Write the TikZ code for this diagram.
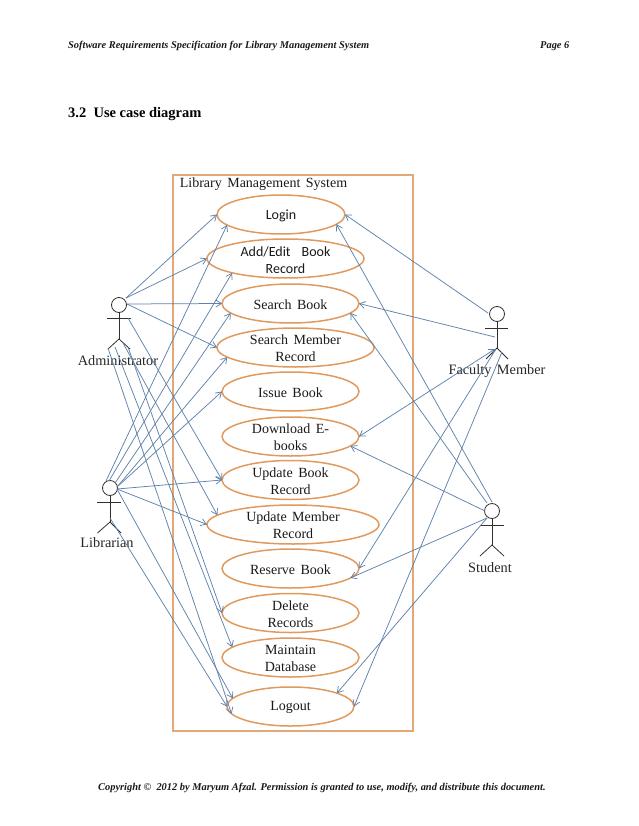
\documentclass[tikz,border=0pt]{standalone}
\usepackage{fontspec}
\setmainfont{Liberation Serif}
\newfontfamily\calib{Carlito}
\usetikzlibrary{shapes.geometric,arrows.meta}
\definecolor{frameor}{HTML}{E2A878}
\definecolor{ellor}{HTML}{E09A5E}
\definecolor{linkbl}{HTML}{5F82AB}
\definecolor{actk}{HTML}{303030}
\newcommand{\wide}{\spaceskip=5.5pt plus 1pt\relax}
\tikzset{
  uc/.style={draw=ellor,line width=1.5pt,ellipse,inner sep=0pt,outer sep=0pt,minimum height=39pt},
  uctext/.style={font=\fontsize{14}{17}\selectfont\wide,align=center,inner sep=0pt,text=black!90,yshift=-1pt},
  calibtext/.style={font=\calib\fontsize{14}{17}\selectfont\wide,align=center,inner sep=0pt,text=black!90,yshift=-1.5pt},
  link/.style={draw=linkbl,line width=0.75pt,-{Straight Barb[length=5.5pt,width=7pt]}},
  biglink/.style={draw=linkbl,line width=0.75pt,{Straight Barb[length=5.5pt,width=7pt]}-{Straight Barb[length=5.5pt,width=7pt]}},
  limb/.style={draw=actk,line width=0.8pt},
  head/.style={draw=actk,line width=0.8pt,circle,minimum size=15pt,inner sep=0pt,outer sep=0pt},
  hdr/.style={font=\bfseries\itshape\fontsize{10.4}{12}\selectfont,anchor=west,inner sep=0pt,text=black!90},
  actorlabel/.style={font=\fontsize{14.3}{16}\selectfont\wide,inner sep=0pt,text=black!85},
}
\begin{document}
\begin{tikzpicture}[x=1pt,y=-1pt]
\useasboundingbox (0,0) rectangle (638,826);
% page texts
\node[hdr] (head) at (68,46) {Software Requirements Specification for Library Management System};
\node[hdr] (page) at (540,46) {Page 6};
\node[font=\bfseries\fontsize{14.5}{17}\selectfont,anchor=west,inner sep=0pt] (sec) at (68,114) {3.2\ \ Use case diagram};
\node[hdr] (copy) at (98,787.5) {Copyright ©\ \ 2012 by Maryum Afzal. Permission is granted to use, modify, and distribute this document.};
% system frame
\node[draw=frameor,line width=1.9pt,rectangle,minimum width=240pt,minimum height=556pt,inner sep=0pt] (frame) at (293,453) {};
\node[uctext] (title) at (263.5,183) {Library Management System};
% use cases
\node[uc,minimum width=128pt,label={[calibtext]center:Login}] (login) at (281,214.5) {};
\node[uc,minimum width=157pt,label={[calibtext]center:Add/Edit\ \ Book\\Record}] (add) at (285.5,258.5) {};
\node[uc,minimum width=137pt,label={[uctext]center:Search Book}] (sbook) at (290.5,303.5) {};
\node[uc,minimum width=157pt,label={[uctext]center:Search Member\\Record}] (smem) at (295.5,347.5) {};
\node[uc,minimum width=137pt,label={[uctext]center:Issue Book}] (issue) at (290.5,391.5) {};
\node[uc,minimum width=137pt,label={[uctext]center:Download E-\\books}] (down) at (290.5,436.5) {};
\node[uc,minimum width=137pt,label={[uctext]center:Update Book\\Record}] (ubook) at (290.5,480) {};
\node[uc,minimum width=172pt,label={[uctext]center:Update Member\\Record}] (umem) at (293,524.5) {};
\node[uc,minimum width=137pt,label={[uctext]center:Reserve Book}] (res) at (290.5,568.5) {};
\node[uc,minimum width=137pt,label={[uctext]center:Delete\\Records}] (del) at (290.5,613) {};
\node[uc,minimum width=137pt,label={[uctext]center:Maintain\\Database}] (maint) at (290.5,657.5) {};
\node[uc,minimum width=127pt,label={[uctext]center:Logout}] (logout) at (290.5,706.5) {};
% actors
\node[head] (admh) at (119,305) {};
\coordinate (admb) at (119,339);
\draw[limb] (admh) -- (admb);
\draw[limb] (107,318) -- (131,318);
\draw[limb] (108,349) -- (admb) -- (130,349);
\node[actorlabel] (adm) at (118,360.5) {Administrator};
\node[head] (libh) at (110,488) {};
\coordinate (libb) at (110,522);
\draw[limb] (libh) -- (libb);
\draw[limb] (97,502) -- (121,502);
\draw[limb] (97.5,533) -- (libb) -- (121,533);
\node[actorlabel] (lib) at (107,542.5) {Librarian};
\node[head] (fach) at (497,314) {};
\coordinate (facb) at (497,348);
\draw[limb] (fach) -- (facb);
\draw[limb] (485,328) -- (508,328);
\draw[limb] (486,359) -- (facb) -- (508,359);
\node[actorlabel] (fac) at (497,371) {Faculty Member};
\node[head] (stuh) at (492,511) {};
\coordinate (stub) at (492,545);
\draw[limb] (stuh) -- (stub);
\draw[limb] (480,525) -- (504,525);
\draw[limb] (480,556) -- (stub) -- (504,556);
\node[actorlabel] (stu) at (490,567.5) {Student};
% free ends on the actors
\coordinate (a1) at (126,298);
\coordinate (a2) at (127,304);
\coordinate (a3) at (128,318);
\coordinate (a4) at (108,348);
\coordinate (a5) at (115,347);
\coordinate (a6) at (123,343);
\coordinate (a7) at (128,347);
\coordinate (l1) at (106,481);
\coordinate (l2) at (109,481);
\coordinate (l3) at (115,483);
\coordinate (l4) at (117,487);
\coordinate (l5) at (117,489);
\coordinate (l6) at (110,518);
\coordinate (f1) at (488,313);
\coordinate (f2) at (495,337);
\coordinate (f3) at (495,349);
\coordinate (f4) at (496,349);
\coordinate (f5) at (502,352);
\coordinate (s1) at (492,502);
\coordinate (s2) at (487,503);
\coordinate (s3) at (485,511);
\coordinate (s4) at (487,518);
% administrator
\draw[link] (a1) -- (login.180);
\draw[link] (a1) -- (add.180);
\draw[link] (a2) -- (sbook.180);
\draw[link] (a2) -- (smem.180);
\draw[link] (a3) -- (ubook.180);
\draw[link] (a6) -- (umem.173);
\draw[link] (a7) -- (del.180);
\draw[link] (a5) -- (maint.170);
\draw[link] (a4) -- (logout.187.5);
% librarian
\draw[link] (l1) -- (login.191);
\draw[link] (l2) -- (add.195);
\draw[link] (l3) -- (sbook.189.4);
\draw[link] (l4) -- (smem.188);
\draw[link] (l4) -- (issue.180);
\draw[link] (l5) -- (ubook.180);
\draw[link] (l5) -- (umem.180);
\draw[link] (l5) -- (logout.172.5);
\draw[link] (l6) -- (logout.180);
% faculty member
\draw[link] (f1) -- (login.0);
\draw[link] (f2) -- (sbook.0);
\draw[biglink] (f3) -- (down.0);
\draw[link] (f4) -- (res.0);
\draw[link] (f5) -- (logout.0);
% student
\draw[link] (s1) -- (login.350);
\draw[link] (s2) -- (sbook.351);
\draw[link] (s3) -- (down.351);
\draw[link] (s4) -- (res.351);
\draw[link] (s4) -- (logout.16.6);
\end{tikzpicture}
\end{document}
